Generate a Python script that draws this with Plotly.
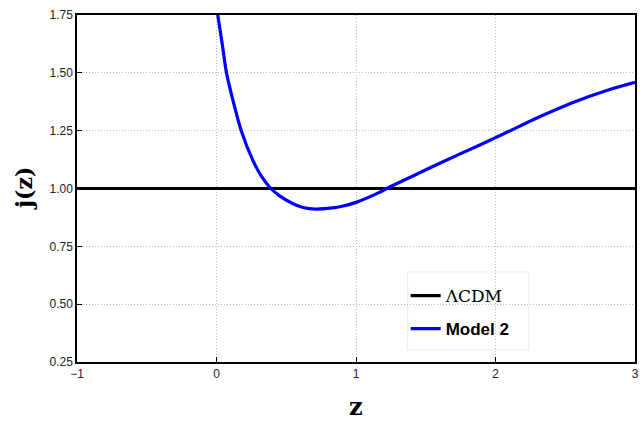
import plotly.graph_objects as go

# Model 2 curve values
z_model = [0.009, 0.04, 0.071, 0.123, 0.178, 0.26, 0.325, 0.39, 0.45, 0.545, 0.62, 0.71, 0.83,
           0.90, 1.0, 1.16, 1.22, 1.397, 1.635, 1.872, 2.0, 2.085, 2.32, 2.56, 2.797, 3.0]
j_model = [1.75, 1.629, 1.502, 1.369, 1.249, 1.123, 1.05, 1.00, 0.969, 0.935, 0.918, 0.911, 0.916,
           0.923, 0.940, 0.981, 1.00, 1.051, 1.119, 1.184, 1.22, 1.244, 1.311, 1.373, 1.424, 1.459]

# LambdaCDM: j = 1
z_lcdm = [-1, 3]
j_lcdm = [1.0, 1.0]

x_ticks = [-1, 0, 1, 2, 3]
x_ticklabels = ["\u22121", "0", "1", "2", "3"]
y_ticks = [0.25, 0.50, 0.75, 1.00, 1.25, 1.50, 1.75]
y_ticklabels = ["0.25", "0.50", "0.75", "1.00", "1.25", "1.50", "1.75"]

fig = go.Figure()
fig.add_trace(go.Scatter(
    x=z_lcdm, y=j_lcdm, mode="lines", legendgroup="a",
    name='<span style="font-family:\'DejaVu Serif\', serif">\u039bCDM</span>',
    line=dict(color="black", width=3.2)))
fig.add_trace(go.Scatter(
    x=z_model, y=j_model, mode="lines", name="<b>Model 2</b>", legendgroup="b",
    line=dict(color="#0000ff", width=3.2, shape="spline", smoothing=0.8)))

axis_common = dict(
    showline=True, linecolor="black", linewidth=1.5, mirror=True,
    ticks="inside", ticklen=5, tickcolor="black", tickwidth=1,
    showgrid=True, gridcolor="#b8b8b8", griddash="1px,2px", gridwidth=1,
    zeroline=False,
    tickfont=dict(family="Liberation Sans, Arial, sans-serif", size=12, color="#222"),
)

fig.update_xaxes(range=[-1, 3], tickvals=x_ticks, ticktext=x_ticklabels, **axis_common)
fig.update_yaxes(range=[0.25, 1.75], tickvals=y_ticks, ticktext=y_ticklabels, **axis_common)

fig.update_layout(
    width=644, height=421,
    margin=dict(l=77, r=5, t=15, b=59),
    plot_bgcolor="white", paper_bgcolor="white",
    showlegend=True,
    legend=dict(x=0.589, y=0.242, xanchor="left", yanchor="top",
                bgcolor="rgba(0,0,0,0)", borderwidth=0,
                font=dict(family="Liberation Sans, Arial, sans-serif", size=17, color="black"),
                itemwidth=30, tracegroupgap=8, traceorder="grouped"),
    shapes=[dict(type="rect", xref="paper", yref="paper",
                 x0=0.5925, x1=0.8096, y0=0.0346, y1=0.2594,
                 fillcolor="white", line=dict(color="#ececec", width=1), layer="between")],
    annotations=[
        dict(text="<b>z</b>", xref="paper", yref="paper", x=0.5, y=-0.128,
             xanchor="center", yanchor="middle", showarrow=False,
             font=dict(family="DejaVu Serif, serif", size=24, color="black")),
        dict(text="<b>j(z)</b>", xref="paper", yref="paper", x=-0.096, y=0.5,
             xanchor="center", yanchor="middle", showarrow=False, textangle=-90,
             font=dict(family="DejaVu Serif, serif", size=22, color="black")),
    ],
)

fig.write_html("out.html", config={"displayModeBar": False},
               post_script="document.body.style.margin='0';document.body.style.padding='0';")
